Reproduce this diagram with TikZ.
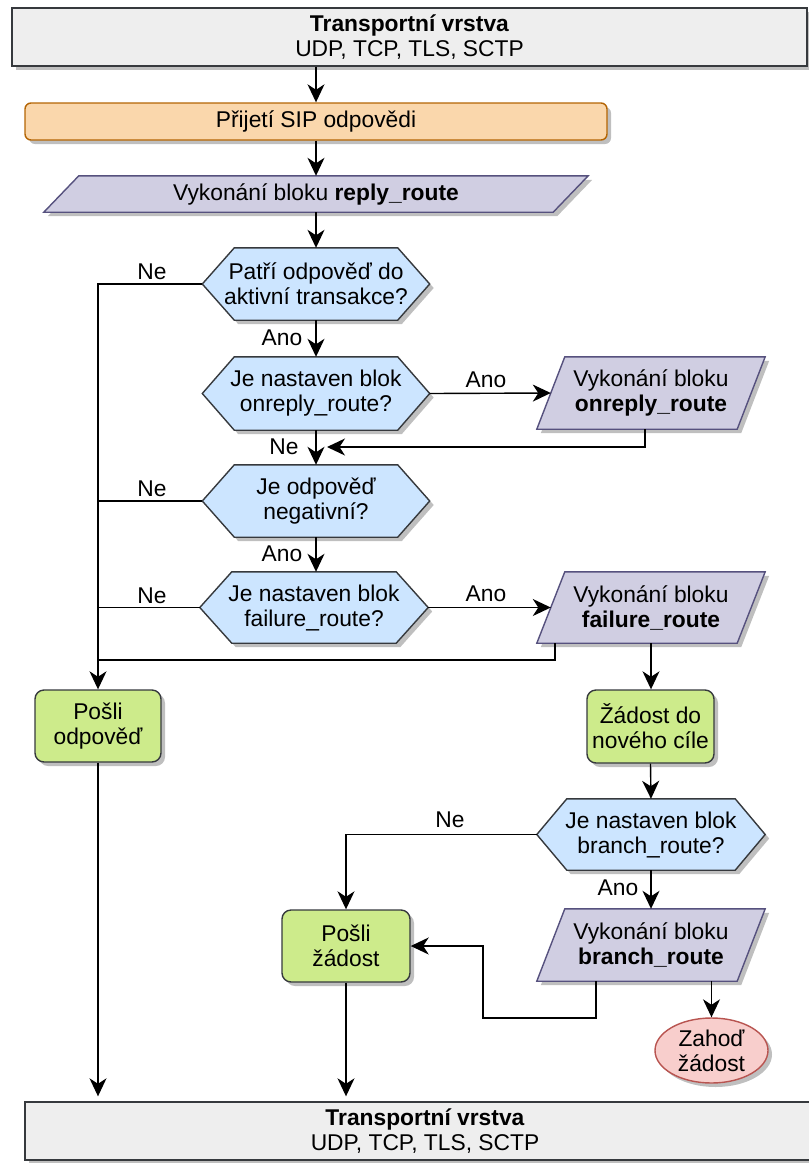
\documentclass[tikz,border=0pt]{standalone}
\usepackage{fontspec}
\setmainfont{Liberation Sans}
\usetikzlibrary{arrows.meta,shapes.geometric,shadows}
\pgfdeclarelayer{background}
\pgfsetlayers{background,main}

\definecolor{layerfill}{HTML}{EEEEEE}
\definecolor{darkline}{HTML}{36393D}
\definecolor{orangefill}{HTML}{FAD7AC}
\definecolor{orangeline}{HTML}{B46504}
\definecolor{purplefill}{HTML}{D0CEE2}
\definecolor{purpleline}{HTML}{56517E}
\definecolor{bluefill}{HTML}{CCE5FF}
\definecolor{greenfill}{HTML}{CDEB8B}
\definecolor{redfill}{HTML}{F8CECC}
\definecolor{redline}{HTML}{B85450}

\tikzset{
  txt/.style={font=\fontsize{22.8}{25}\selectfont, align=center, inner sep=0pt},
  shade box/.style={drop shadow={shadow xshift=4pt, shadow yshift=-4pt, fill=black, opacity=0.25}},
  layerbox/.style={txt, rectangle, draw=darkline, fill=layerfill, line width=1.4pt, shade box},
  startbox/.style={txt, rectangle, rounded corners=6pt, draw=orangeline, fill=orangefill, line width=1.4pt, shade box},
  sendbox/.style={txt, rectangle, rounded corners=9pt, draw=darkline, fill=greenfill, line width=1.4pt, shade box},
  dropbox/.style={txt, ellipse, draw=redline, fill=redfill, line width=1.4pt, shade box},
  hexshape/.style={draw=darkline, fill=bluefill, line width=1.4pt, shade box},
  ioshape/.style={draw=purpleline, fill=purplefill, line width=1.4pt, shade box},
  lbl/.style={txt},
  link/.style={draw=black, line width=1.4pt},
  arr/.style={link, -{Stealth[length=18pt, width=17pt, inset=5.5pt]}},
}

% decision hexagon drawn around a text node: node name, chamfer width
\newcommand\decisionhex[2]{%
  \path[hexshape] (#1.west) -- ([xshift=#2pt]#1.north west) -- ([xshift=-#2pt]#1.north east)
    -- (#1.east) -- ([xshift=-#2pt]#1.south east) -- ([xshift=#2pt]#1.south west) -- cycle;}
% input/output parallelogram around a text node: node name, half slant
\newcommand\iobox[2]{%
  \path[ioshape] ([xshift=-#2pt]#1.south west) -- ([xshift=#2pt]#1.north west)
    -- ([xshift=#2pt]#1.north east) -- ([xshift=-#2pt]#1.south east) -- cycle;}

\begin{document}
\begin{tikzpicture}[x=1pt, y=-1pt]
\useasboundingbox (0,0) rectangle (809,1163);
\clip (0,0) rectangle (809,1163);

% ---- boxes ----
\node[layerbox, minimum width=795pt, minimum height=58pt] (top) at (409.5,37)
  {\textbf{Transportní vrstva}\\UDP, TCP, TLS, SCTP};
\node[startbox, minimum width=582pt, minimum height=37pt] (recv) at (316,121.5)
  {Přijetí SIP odpovědi};
\node[txt, minimum width=509pt, minimum height=36pt] (rr) at (316,194)
  {Vykonání bloku \textbf{reply\_route}};
\node[txt, minimum width=227pt, minimum height=72pt] (q1) at (316,284)
  {Patří odpověď do\\aktivní transakce?};
\node[txt, minimum width=227pt, minimum height=73pt] (q2) at (316,393.5)
  {Je nastaven blok\\onreply\_route?};
\node[txt, minimum width=200pt, minimum height=72pt] (orr) at (651,393)
  {Vykonání bloku\\\textbf{onreply\_route}};
\node[txt, minimum width=227pt, minimum height=72pt] (q3) at (316,501)
  {Je odpověď\\negativní?};
\node[txt, minimum width=228pt, minimum height=71pt] (q4) at (314,607.5)
  {Je nastaven blok\\failure\_route?};
\node[txt, minimum width=200pt, minimum height=71pt] (fr) at (651,607.5)
  {Vykonání bloku\\\textbf{failure\_route}};
\node[sendbox, minimum width=127pt, minimum height=73pt] (nd) at (650.5,726.5)
  {Žádost do\\nového cíle};
\node[txt, minimum width=228pt, minimum height=71pt] (q5) at (651,834.5)
  {Je nastaven blok\\branch\_route?};
\node[txt, minimum width=200pt, minimum height=72pt] (br) at (651,945)
  {Vykonání bloku\\\textbf{branch\_route}};
\node[sendbox, minimum width=128pt, minimum height=72pt] (ps) at (346,946)
  {Pošli\\žádost};
\node[sendbox, minimum width=126pt, minimum height=72pt] (po) at (98,726)
  {Pošli\\odpověď};
\node[dropbox, minimum width=113pt, minimum height=65pt] (drop) at (711.5,1050.5)
  {Zahoď\\žádost};
\node[layerbox, minimum width=800pt, minimum height=58pt] (bot) at (425,1131)
  {\textbf{Transportní vrstva}\\UDP, TCP, TLS, SCTP};

% ---- shapes behind the texts ----
\begin{pgfonlayer}{background}
  \iobox{rr}{17.5}
  \decisionhex{q1}{32}
  \decisionhex{q2}{32}
  \iobox{orr}{14}
  \decisionhex{q3}{32}
  \decisionhex{q4}{32}
  \iobox{fr}{14}
  \decisionhex{q5}{30}
  \iobox{br}{14}
\end{pgfonlayer}

% ---- free ends of connectors ----
\coordinate (merge) at (327,447);
\coordinate (failjoin) at (97,660);
\coordinate (loop) at (483,1018);

% ---- connectors ----
\draw[arr] (top.south -| recv.north) -- (recv.north);
\draw[arr] (recv.south) -- (rr.north);
\draw[arr] (rr.south) -- (q1.north);
\draw[arr] (q1.south) -- (q2.north);
\draw[arr] (q1.west) -| (po.north);
\draw[arr] (q2.east) -- (orr.west);
\draw[arr] ([xshift=-6pt]orr.south) |- (merge);
\draw[arr] (q2.south) -- (q3.north);
\draw[link] (q3.west) -- (q3.west -| po.north);
\draw[arr] (q3.south) -- (q3.south |- q4.north);
\draw[link] (q4.west) -- (q4.west -| po.north);
\draw[arr] (q4.east) -- (fr.west);
\draw[link] ([xshift=-96pt]fr.south) |- (failjoin);
\draw[arr] (fr.south) -- (fr.south |- nd.north);
\draw[arr] (nd.south) -- (q5.north);
\draw[arr] (q5.west) -| (ps.north);
\draw[arr] (q5.south) -- (br.north);
\draw[arr] ([xshift=-55pt]br.south) |- (loop) |- (ps.east);
\draw[arr] (drop.north |- br.south) -- (drop.north);
\draw[arr] (ps.south) -- ([yshift=5pt]bot.north -| ps.south);
\draw[arr] (po.south) -- ([yshift=5pt]bot.north -| po.south);

% ---- branch labels ----
\node[lbl] (l1) at (152,272) {Ne};
\node[lbl] (l2) at (282,338) {Ano};
\node[lbl] (l3) at (486,380) {Ano};
\node[lbl] (l4) at (284,447) {Ne};
\node[lbl] (l5) at (152,489) {Ne};
\node[lbl] (l6) at (282,554) {Ano};
\node[lbl] (l7) at (152,596) {Ne};
\node[lbl] (l8) at (486,594) {Ano};
\node[lbl] (l9) at (450,820) {Ne};
\node[lbl] (l10) at (618,888) {Ano};
\end{tikzpicture}
\end{document}
